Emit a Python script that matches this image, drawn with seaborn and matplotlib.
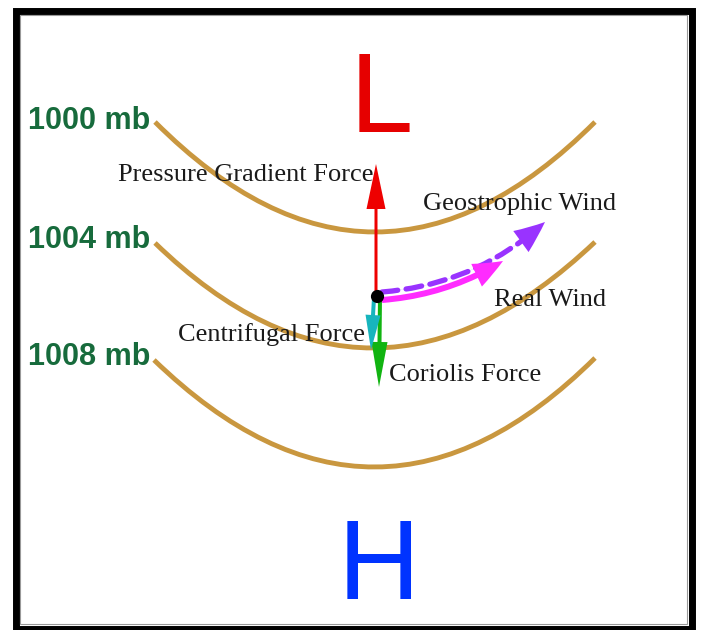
import matplotlib
matplotlib.use("Agg")
import matplotlib.pyplot as plt
import matplotlib.patches as mpatches
from matplotlib.path import Path
from matplotlib import font_manager
import seaborn as sns


# Isobars, in picture pixels (y grows downwards)
isobar_labels = ["1000 mb", "1004 mb", "1008 mb"]
isobar_x_start = [155, 155, 154]
isobar_y_start = [122, 243, 360]
isobar_x_end = [595, 595, 595]
isobar_y_end = [122, 242, 358]
isobar_x_low = [375, 372, 376]
isobar_y_low = [232, 348, 467]   # lowest point of each isobar

# Forces and winds acting on the air parcel: start point and tip
force_names = ["Pressure Gradient Force", "Coriolis Force", "Centrifugal Force",
               "Real Wind", "Geostrophic Wind"]
force_x0 = [376, 380, 374, 382, 382]
force_y0 = [295, 298, 298, 300, 292]
force_x1 = [376, 379, 371, 503, 545]
force_y1 = [164, 387, 350, 261, 222]

parcel_x = [377]
parcel_y = [296]


sns.set_theme(style="white")
names = {f.name for f in font_manager.fontManager.ttflist}
sans = "Liberation Sans Narrow" if "Liberation Sans Narrow" in names else "Liberation Sans"
narrow = sans == "Liberation Sans Narrow"
plt.rcParams["font.family"] = [sans, "DejaVu Sans"]

fig = plt.figure(figsize=(7.01, 6.30), dpi=100)
ax = fig.add_axes([0, 0, 1, 1])

gold = "#c9973f"
green_txt = "#176b3c"

# isobars as quadratic curves through their lowest point
label_base = [129, 248, 365]
for i in range(len(isobar_labels)):
    cy = 2 * isobar_y_low[i] - (isobar_y_start[i] + isobar_y_end[i]) / 2
    verts = [(isobar_x_start[i], isobar_y_start[i]), (isobar_x_low[i], cy),
             (isobar_x_end[i], isobar_y_end[i])]
    path = Path(verts, [Path.MOVETO, Path.CURVE3, Path.CURVE3])
    ax.add_patch(mpatches.PathPatch(path, fc="none", ec=gold, lw=3.5, zorder=1))
    ax.text(28, label_base[i], isobar_labels[i], color=green_txt,
            fontsize=26 if narrow else 22, fontweight="bold",
            ha="left", va="baseline", family=[sans])

# arrows (mutation_scale 0.72 -> sizes given in pixels)
colors = ["#ee0000", "#11b411", "#17b5bd", "#ff2bff", "#9933ff"]
heads = [(45, 19, 3), (45, 16, 4), (35, 15, 4), (30, 25, 6), (31, 26, 0.1)]
rads = [0, 0, 0, 0.12, 0.17]
order = [0, 1, 2, 4, 3]
for i in order:
    hl, hw, tw = heads[i]
    conn = "arc3,rad=%s" % rads[i]
    if force_names[i] == "Geostrophic Wind":
        # dashed shaft drawn separately
        ax.add_patch(mpatches.FancyArrowPatch(
            (force_x0[i], force_y0[i]), (force_x1[i], force_y1[i]),
            arrowstyle="-", connectionstyle=conn, color=colors[i], lw=3.8,
            linestyle=(0, (3, 1.6)), shrinkA=0, shrinkB=18, zorder=4))
    style = mpatches.ArrowStyle.Simple(head_length=hl, head_width=hw, tail_width=tw)
    ax.add_patch(mpatches.FancyArrowPatch(
        (force_x0[i], force_y0[i]), (force_x1[i], force_y1[i]),
        arrowstyle=style, connectionstyle=conn, mutation_scale=0.72,
        color=colors[i], lw=0, shrinkA=0, shrinkB=0, zorder=4))

sns.scatterplot(x=parcel_x, y=parcel_y, color="black", s=90, linewidth=0,
                ax=ax, zorder=6, legend=False)

# labels of forces
serif = ["Liberation Serif", "DejaVu Serif"]
label_pos = {"Pressure Gradient Force": (246, 181),
             "Geostrophic Wind": (520, 210),
             "Real Wind": (550, 306),
             "Centrifugal Force": (272, 341),
             "Coriolis Force": (465, 381)}
for name in force_names:
    x, y = label_pos[name]
    ax.text(x, y, name, color="#1a1a1a", fontsize=19, family=serif,
            ha="center", va="baseline", zorder=3)

# Low and High
ax.text(381, 132, "L", color="#e60000", fontsize=82, family=[sans],
        ha="center", va="baseline")
ax.text(379, 599, "H", color="#0033ff", fontsize=82, family=[sans],
        ha="center", va="baseline")

# frame
ax.add_patch(mpatches.Rectangle((15.5, 10.5), 676, 618, fill=False, ec="black", lw=5, zorder=8))
ax.add_patch(mpatches.Rectangle((20, 15), 667, 609, fill=False, ec="#999999", lw=0.8, zorder=8))

ax.set_xlim(0, 701)
ax.set_ylim(630, 0)
ax.axis("off")

fig.savefig("out.png", dpi=100)
